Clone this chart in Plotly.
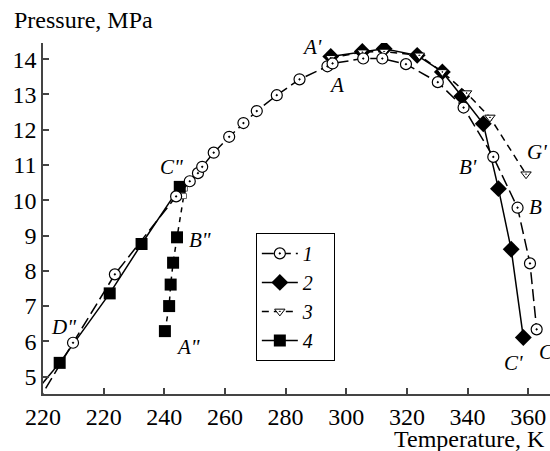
import plotly.graph_objects as go

# ---- data ----
# series 1: open circles with a dot, long dashed line
s1_T = [209.9, 223.7, 243.9, 248.4, 251.1, 252.5, 256.3, 261.4, 266.1, 270.5, 277.1, 284.6,
        293.8, 295.5, 305.6, 311.9, 319.7, 330.2, 338.7, 348.5, 356.5, 360.6, 362.8]
s1_P = [5.96, 7.90, 10.11, 10.54, 10.77, 10.95, 11.35, 11.80, 12.19, 12.53, 12.98, 13.43,
        13.80, 13.88, 14.02, 14.02, 13.86, 13.35, 12.63, 11.23, 9.79, 8.21, 6.34]
s1_ext_T = [198.0, 209.9]
s1_ext_P = [4.25, 5.96]

# series 2: filled diamonds, solid line
s2_T = [294.9, 305.3, 312.5, 323.4, 331.7, 338.1, 345.2, 350.2, 354.4, 358.4]
s2_P = [14.08, 14.22, 14.30, 14.11, 13.64, 12.95, 12.17, 10.33, 8.61, 6.11]

# series 3: open down-triangles, short dashed line
s3_T = [294.9, 305.3, 312.5, 324.1, 331.7, 339.7, 347.4, 359.3]
s3_P = [14.04, 14.20, 14.22, 14.11, 13.64, 13.04, 12.35, 10.74]

# series 4: filled squares, solid branch D''-C'' and dashed branch A''-B''-C''
s4_T = [205.5, 222.0, 232.5, 245.1]
s4_P = [5.39, 7.36, 8.76, 10.38]
s4_ext_T = [198.0, 205.5]
s4_ext_P = [4.62, 5.39]
s4b_T = [240.2, 241.6, 242.1, 242.9, 244.2]
s4b_P = [6.29, 7.00, 7.61, 8.23, 8.95]
s4b_line_T = [240.2, 241.6, 242.1, 242.9, 244.2, 246.5, 246.8]
s4b_line_P = [6.29, 7.00, 7.61, 8.23, 8.95, 10.12, 10.33]
small_T = [246.5, 246.8]
small_P = [10.12, 10.33]

# axes
x_tickvals = [200, 220, 240, 260, 280, 300, 320, 340, 360]
x_ticktext = ["220", "220", "240", "260", "280", "300", "320", "340", "360"]
y_tickvals = [5, 6, 7, 8, 9, 10, 11, 12, 13, 14]

# point labels: (text, T, P)
labels = [("A'", 288.8, 14.35), ("A", 296.8, 13.26), ("G'", 362.8, 11.37),
          ("B'", 340.3, 10.95), ("B", 362.3, 9.81), ("C'", 355.1, 5.38),
          ('C"', 242.4, 10.95), ('B"', 251.7, 8.87), ('A"', 247.9, 5.85),
          ('D"', 206.6, 6.41)]

SERIF = "Liberation Serif, Times New Roman, serif"
BLACK = "#000000"
NB = "\u00a0"

fig = go.Figure()

# extension lines
fig.add_trace(go.Scatter(x=s4_ext_T, y=s4_ext_P, mode="lines", showlegend=False,
                         line=dict(color=BLACK, width=1.5)))
fig.add_trace(go.Scatter(x=s1_ext_T, y=s1_ext_P, mode="lines", showlegend=False,
                         line=dict(color=BLACK, width=1.5, dash="12px,5px")))
# series 4 dashed branch
fig.add_trace(go.Scatter(x=s4b_line_T, y=s4b_line_P, mode="lines", showlegend=False,
                         line=dict(color=BLACK, width=1.5, dash="5px,5px")))
fig.add_trace(go.Scatter(x=small_T, y=small_P, mode="markers", showlegend=False,
                         marker=dict(symbol="square", size=5, color="white",
                                     line=dict(color="#666666", width=1))))
fig.add_trace(go.Scatter(x=s4b_T, y=s4b_P, mode="markers", showlegend=False,
                         marker=dict(symbol="square", size=12, color=BLACK)))
# series 4
fig.add_trace(go.Scatter(x=s4_T, y=s4_P, mode="lines+markers", name="<i>4</i>" + NB * 3,
                         legendrank=4, legendgroup="g4",
                         line=dict(color=BLACK, width=1.5),
                         marker=dict(symbol="square", size=12, color=BLACK)))
# series 2
fig.add_trace(go.Scatter(x=s2_T, y=s2_P, mode="lines+markers", name="<i>2</i>" + NB * 3,
                         legendrank=2, legendgroup="g2",
                         line=dict(color=BLACK, width=1.5),
                         marker=dict(symbol="diamond", size=13, color=BLACK)))
# series 3
fig.add_trace(go.Scatter(x=s3_T, y=s3_P, mode="lines+markers", name="<i>3</i>" + NB * 3,
                         legendrank=3, legendgroup="g3",
                         line=dict(color=BLACK, width=1.5, dash="7px,5px"),
                         marker=dict(symbol="triangle-down-dot", size=9, color="white",
                                     line=dict(color=BLACK, width=1))))
# series 1
fig.add_trace(go.Scatter(x=s1_T, y=s1_P, mode="lines+markers", name="<i>1</i>" + NB * 3,
                         legendrank=1, legendgroup="g1",
                         line=dict(color=BLACK, width=1.5, dash="12px,5px"),
                         marker=dict(symbol="circle-dot", size=11, color="white",
                                     line=dict(color=BLACK, width=1.2))))

annotations = []
for txt, t, p in labels:
    annotations.append(dict(x=t, y=p, xref="x", yref="y", text=f"<i>{txt}</i>",
                            showarrow=False, font=dict(family=SERIF, size=21, color=BLACK)))
annotations.append(dict(x=362.8, y=5.71, xref="x", yref="y", text="<i>C</i>", xanchor="left",
                        showarrow=False, font=dict(family=SERIF, size=21, color=BLACK)))
annotations.append(dict(x=-0.0617, y=1.0646, xref="paper", yref="paper", text="Pressure, MPa",
                        xanchor="left", yanchor="middle", showarrow=False,
                        font=dict(family=SERIF, size=24, color=BLACK)))
annotations.append(dict(x=0.9935, y=-0.129, xref="paper", yref="paper", text="Temperature, K",
                        xanchor="right", yanchor="middle", showarrow=False,
                        font=dict(family=SERIF, size=24, color=BLACK)))

axis_common = dict(showgrid=False, zeroline=False, showline=True, linecolor="#444444",
                   linewidth=1.5, ticks="inside", ticklen=6, tickwidth=1.5, tickcolor="#444444",
                   tickfont=dict(family=SERIF, size=24, color=BLACK), mirror=False)

fig.update_layout(
    width=550, height=451,
    margin=dict(l=43.3, r=0, t=42.7, b=57),
    paper_bgcolor="white", plot_bgcolor="white",
    xaxis=dict(range=[200, 367.2], tickmode="array", tickvals=x_tickvals, ticktext=x_ticktext,
               **axis_common),
    yaxis=dict(range=[4.507, 14.46], tickmode="array", tickvals=y_tickvals, **axis_common),
    legend=dict(x=0.4198, y=0.459, xanchor="left", yanchor="top",
                bordercolor=BLACK, borderwidth=1, bgcolor="white",
                font=dict(family=SERIF, size=20, color=BLACK),
                tracegroupgap=0, itemwidth=36),
    annotations=annotations,
    showlegend=True,
)

fig.write_html("out.html", config={"displayModeBar": False},
               post_script="document.body.style.margin='0';document.body.style.padding='0';")
